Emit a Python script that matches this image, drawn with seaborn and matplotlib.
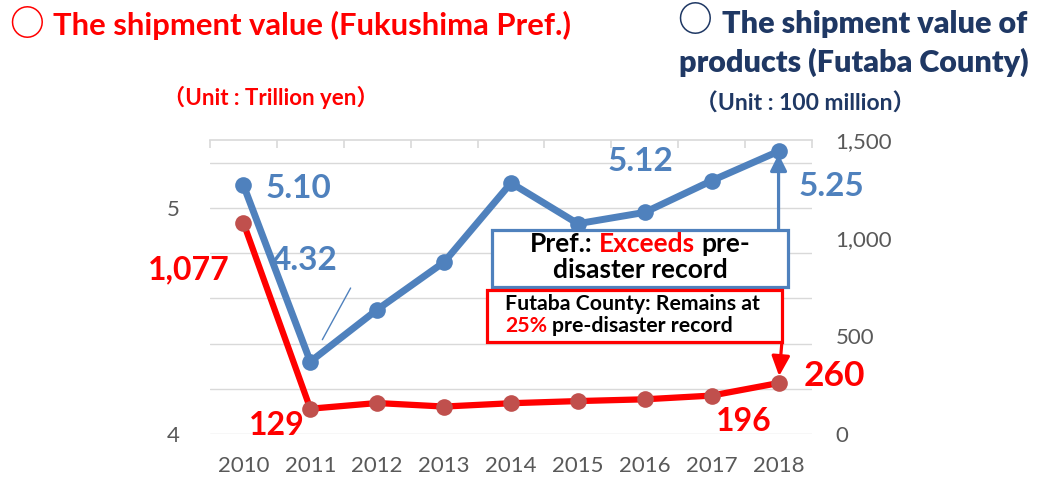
import numpy as np
import pandas as pd
import matplotlib
matplotlib.use("Agg")
import matplotlib.pyplot as plt
import seaborn as sns
from matplotlib.patches import Rectangle

# data
years = [2010, 2011, 2012, 2013, 2014, 2015, 2016, 2017, 2018]
pref_values = [5.10, 4.32, 4.55, 4.76, 5.11, 4.93, 4.98, 5.12, 5.25]      # trillion yen
futaba_values = [1077, 129, 158, 140, 157, 168, 177, 196, 260]          # 100 million yen
pref_labels = {2010: "5.10", 2011: "4.32", 2017: "5.12", 2018: "5.25"}
futaba_labels = {2010: "1,077", 2011: "129", 2017: "196", 2018: "260"}
left_ticks = [4.0, 4.2, 4.4, 4.6, 4.8, 5.0, 5.2]
left_tick_labels = ["4", "", "", "", "", "5", ""]
right_ticks = [0, 500, 1000, 1500]
right_tick_labels = ["0", "500", "1,000", "1,500"]

BLUE = "#4F81BD"
RED = "#FF0000"
RED_MARK = "#C0504D"
NAVY = "#1F3864"
GRAY = "#595959"
GRID = "#D9D9D9"

sns.set_theme(style="white")
plt.rcParams["font.family"] = ["Lato", "Noto Sans CJK JP", "DejaVu Sans"]

W, H = 1046, 486
fig = plt.figure(figsize=(W / 100, H / 100), dpi=100)


def fx(x):
    return x / W


def fy(y):
    return 1 - y / H


ax = fig.add_axes([fx(210), fy(434), 602 / W, 294 / H])
ax2 = ax.twinx()

df = pd.DataFrame({"year": years, "pref": pref_values, "futaba": futaba_values})

sns.lineplot(data=df, x="year", y="pref", ax=ax, color=BLUE, lw=5,
             marker="o", markersize=12, markeredgewidth=0, zorder=3)
sns.lineplot(data=df, x="year", y="futaba", ax=ax2, color=RED, lw=4.5,
             marker="o", markersize=12, markerfacecolor=RED_MARK,
             markeredgecolor=RED_MARK, markeredgewidth=0, zorder=3)

ax.set_xlim(2009.5, 2018.5)
ax.set_ylim(4, 5.3)
ax2.set_ylim(0, 1500)
for a in (ax, ax2):
    a.set_xlabel("")
    a.set_ylabel("")
    for s in a.spines.values():
        s.set_visible(False)
ax.spines["top"].set_visible(True)
ax.spines["top"].set_color(GRID)
ax.spines["top"].set_linewidth(1.2)

ax.set_yticks(left_ticks)
ax.set_yticklabels(left_tick_labels)
ax.grid(axis="y", color=GRID, lw=1)
ax.grid(axis="x", visible=False)
ax.set_axisbelow(True)
ax.tick_params(axis="y", length=0, labelsize=16, labelcolor=GRAY, pad=22)

ax2.set_yticks(right_ticks)
ax2.set_yticklabels(right_tick_labels)
ax2.grid(False)
ax2.tick_params(axis="y", length=0, labelsize=16, labelcolor=GRAY, pad=17)

ax.set_xticks(years)
ax.set_xticklabels([str(y) for y in years])
ax.tick_params(axis="x", which="major", length=0, labelsize=16, labelcolor=GRAY, pad=16)
ax.set_xticks(np.arange(2009.5, 2018.6, 1), minor=True)
ax.tick_params(axis="x", which="minor", top=True, bottom=False, direction="in",
               length=6, width=1.2, color=GRID)

# data labels
pref_off = {2010: (16, -2, "left"), 2011: (-4, 73, "center"),
            2017: (-51, 14, "center"), 2018: (38, -25, "center")}
for yr, txt in pref_labels.items():
    dx, dy, ha = pref_off[yr]
    ax.annotate(txt, xy=(yr, pref_values[years.index(yr)]), xytext=(dx, dy),
                textcoords="offset points", ha=ha, va="center",
                fontsize=24, fontweight="bold", color=BLUE)

fut_off = {2010: (-39, -34, 23), 2011: (-24, -12, 23),
           2017: (23, -19, 23), 2018: (40, 5, 25.5)}
for yr, txt in futaba_labels.items():
    dx, dy, size = fut_off[yr]
    ax2.annotate(txt, xy=(yr, futaba_values[years.index(yr)]), xytext=(dx, dy),
                 textcoords="offset points", ha="center", va="center",
                 fontsize=size, fontweight="bold", color=RED, zorder=6)

# thin leader line for 4.32
ax.annotate("", xy=(2011, pref_values[1]), xytext=(29, 53), textcoords="offset points",
            arrowprops=dict(arrowstyle="-", color=BLUE, lw=1, shrinkA=0, shrinkB=18))

# comment boxes
blue_box = (0.468, 0.500, 0.492, 0.194)
red_box = (0.460, 0.313, 0.490, 0.177)
ax2.add_patch(Rectangle(blue_box[:2], blue_box[2], blue_box[3], transform=ax.transAxes,
                        facecolor="white", edgecolor=BLUE, lw=2.3, zorder=5, clip_on=False))
ax2.add_patch(Rectangle(red_box[:2], red_box[2], red_box[3], transform=ax.transAxes,
                        facecolor="white", edgecolor=RED, lw=2.3, zorder=5, clip_on=False))

# arrows from the boxes to the 2018 values
ax2.annotate("", xy=(2018, (pref_values[-1] - 4) / 1.3 * 1500),
             xytext=(2018, blue_box[1] + blue_box[3]), textcoords=("data", "axes fraction"),
             arrowprops=dict(arrowstyle="-|>,head_width=0.5,head_length=1.0", mutation_scale=10,
                             lw=2.3, color=BLUE, shrinkA=0, shrinkB=2), zorder=6)
ax2.annotate("", xy=(2018, futaba_values[-1]),
             xytext=(2018.05, red_box[1]), textcoords=("data", "axes fraction"),
             arrowprops=dict(arrowstyle="-|>,head_width=0.55,head_length=1.2", mutation_scale=10,
                             lw=2.3, color=RED, shrinkA=0, shrinkB=5), zorder=6)

renderer = fig.canvas.get_renderer()


def text_width(s, size, weight):
    t = fig.text(0, 0, s, fontsize=size, fontweight=weight)
    w = t.get_window_extent(renderer).width
    t.remove()
    return w


def runs(x0, y, parts, size, weight="bold", ha="left"):
    full = "".join(p for p, _ in parts)
    total = text_width(full, size, weight)
    start = x0 - total / 2 if ha == "center" else x0
    acc = ""
    for s, c in parts:
        body = s.strip()
        lead = s[:len(s) - len(s.lstrip())]
        prefix = acc + lead
        off = text_width(prefix + body[0], size, weight) - text_width(body[0], size, weight) if prefix else 0
        fig.text(fx(start + off), fy(y), body, fontsize=size, fontweight=weight,
                 color=c, va="baseline", ha="left", zorder=7)
        acc += s


runs(640, 252, [("Pref.: ", "black"), ("Exceeds ", RED), ("pre-", "black")], 19, ha="center")
runs(640, 278, [("disaster record", "black")], 19, ha="center")
runs(505, 310, [("Futaba County: Remains at", "black")], 15.3)
runs(505, 332, [("25% ", RED), ("pre-disaster record", "black")], 15.3)

# titles
fig.text(fx(27), fy(25), "○", fontsize=25, color=RED, ha="center", va="center",
         family=["Noto Sans CJK JP"], fontweight="bold")
fig.text(fx(53), fy(35), "The shipment value (Fukushima Pref.)", fontsize=22.3,
         fontweight="bold", color=RED, va="baseline")
fig.text(fx(271), fy(105), "（Unit : Trillion yen）", fontsize=16,
         fontweight="bold", color=RED, va="baseline", ha="center")

fig.text(fx(695), fy(20), "○", fontsize=25, color=NAVY, ha="center", va="center",
         family=["Noto Sans CJK JP"], fontweight="bold")
fig.text(fx(722), fy(33), "The shipment value of", fontsize=22,
         fontweight="heavy", color=NAVY, va="baseline")
fig.text(fx(854), fy(72), "products (Futaba County)", fontsize=22,
         fontweight="heavy", color=NAVY, va="baseline", ha="center")
fig.text(fx(805), fy(111), "（Unit : 100 million）", fontsize=16.5,
         fontweight="bold", color=NAVY, va="baseline", ha="center")

fig.savefig("out.png", dpi=100)
